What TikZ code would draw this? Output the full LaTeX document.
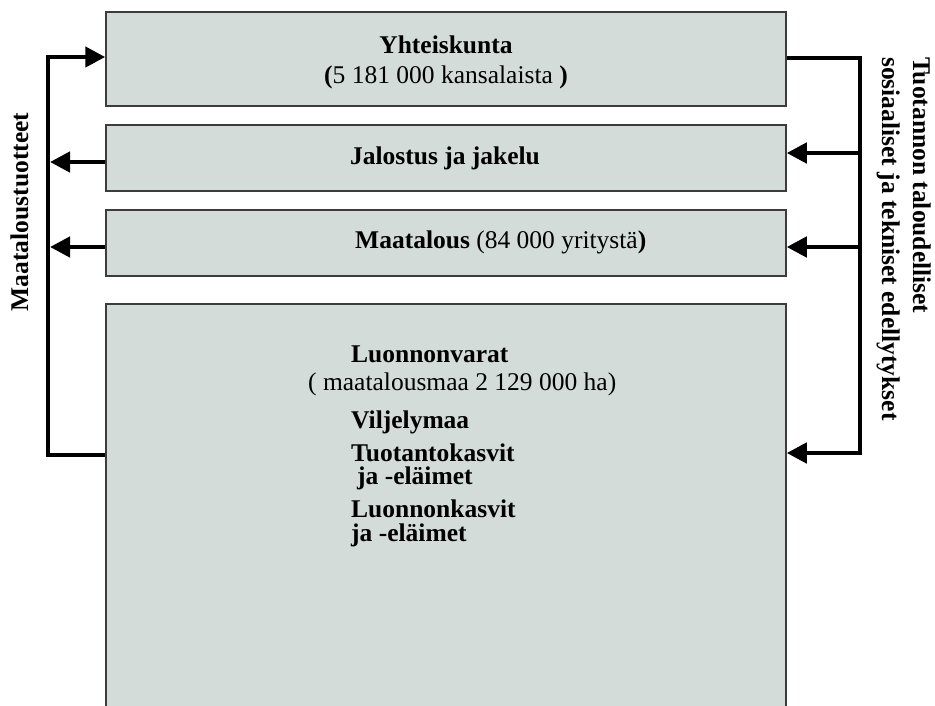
\documentclass[tikz,border=0pt]{standalone}
\usepackage{fontspec}
\setmainfont{Liberation Serif}
\usetikzlibrary{arrows.meta}
\definecolor{boxfill}{HTML}{D3DCD9}
\definecolor{boxline}{HTML}{3C3C3C}
\begin{document}
\begin{tikzpicture}[x=1pt,y=-1pt,
  every node/.style={font=\fontsize{25.5}{28}\selectfont, inner sep=0pt},
  panel/.style={draw=boxline, fill=boxfill, line width=1.5pt, rectangle,
    minimum width=680pt, inner sep=0pt},
  conn/.style={line width=4.5pt, line join=miter},
  arr/.style={conn, -{Triangle[length=20pt,width=20pt]}},
  txt/.style={anchor=base west},
  ctxt/.style={anchor=base}]
\clip (0,0) rectangle (935,705);

% panels
\node[panel, minimum height=94pt]  (b1) at (446,59) {};
\node[panel, minimum height=66pt]  (b2) at (446,158) {};
\node[panel, minimum height=66pt]  (b3) at (446,243) {};
\node[panel, minimum height=430pt] (b4) at (446,519) {};

% panel texts
\node[ctxt] (t1a) at (446,53) {\textbf{Yhteiskunta}};
\node[ctxt] (t1b) at (446,83) {\textbf{(}5 181 000 kansalaista \textbf{)}};
\node[ctxt] (t2)  at (445,164) {\textbf{Jalostus ja jakelu}};
\node[txt]  (t3)  at (355,248) {\textbf{Maatalous} (84 000 yritystä\textbf{)}};
\node[txt]  (t4a) at (351,362) {\textbf{Luonnonvarat}};
\node[txt]  (t4b) at (308,390) {( maatalousmaa 2 129 000 ha)};
\node[txt]  (t4c) at (351,428) {\textbf{Viljelymaa}};
\node[txt]  (t4d) at (351,461) {\textbf{Tuotantokasvit}};
\node[txt]  (t4e) at (357,484) {\textbf{ja -eläimet}};
\node[txt]  (t4f) at (351,517) {\textbf{Luonnonkasvit}};
\node[txt]  (t4g) at (351,541) {\textbf{ja -eläimet}};

% side labels
\node[ctxt, rotate=90] (lab1) at (28,212) {\textbf{Maataloustuotteet}};
\node[txt, rotate=-90] (lab2) at (913,57) {\textbf{Tuotannon taloudelliset}};
\node[txt, rotate=-90] (lab3) at (882,57) {\textbf{sosiaaliset ja tekniset edellytykset}};

% connector rails and levels
\coordinate (lx) at (48,0);
\coordinate (rx) at (860,0);
\coordinate (yL1) at (0,57);
\coordinate (yR1) at (0,58);
\coordinate (yL2) at (0,162);
\coordinate (yR2) at (0,153);
\coordinate (y3)  at (0,247);
\coordinate (yL4) at (0,455);
\coordinate (yR4) at (0,453);

% products flowing up on the left
\draw[arr] (b4.west |- yL4) -- (lx |- yL4) -- (lx |- yL1) -- (b1.west |- yL1);
\draw[arr] (b2.west |- yL2) -- ([xshift=2pt]lx |- yL2);
\draw[arr] (b3.west |- y3) -- ([xshift=2pt]lx |- y3);

% prerequisites flowing down on the right
\draw[arr] (b1.east |- yR1) -- (rx |- yR1) -- (rx |- yR4) -- (b4.east |- yR4);
\draw[arr] (rx |- yR2) -- (b2.east |- yR2);
\draw[arr] (rx |- y3) -- (b3.east |- y3);
\end{tikzpicture}
\end{document}
